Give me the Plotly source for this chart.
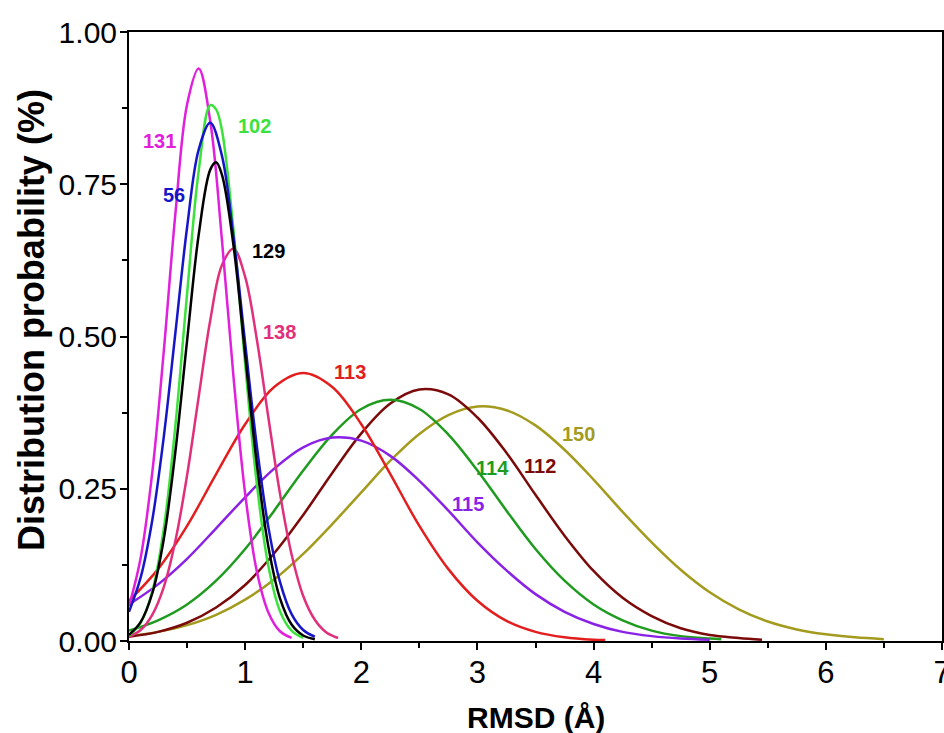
import plotly.graph_objects as go

# RMSD grids (Å)
x_narrow_131 = [0.0, 0.1, 0.2, 0.3, 0.4, 0.5, 0.6, 0.7, 0.8, 0.9, 1.0, 1.1, 1.2, 1.3, 1.4]
x_narrow_102 = [0.0, 0.1, 0.2, 0.3, 0.4, 0.5, 0.6, 0.7, 0.75, 0.8, 0.9, 1.0, 1.1, 1.2, 1.3, 1.4, 1.5]
x_narrow_56 = [0.0, 0.1, 0.2, 0.3, 0.4, 0.5, 0.6, 0.7, 0.8, 0.9, 1.0, 1.1, 1.2, 1.3, 1.4, 1.5, 1.6]
x_narrow_129 = [0.0, 0.1, 0.2, 0.3, 0.4, 0.5, 0.6, 0.7, 0.75, 0.8, 0.9, 1.0, 1.1, 1.2, 1.3, 1.4, 1.5, 1.6]
x_narrow_138 = [0.0, 0.1, 0.2, 0.3, 0.4, 0.5, 0.6, 0.7, 0.8, 0.9, 1.0, 1.1, 1.2, 1.3, 1.4, 1.5, 1.6, 1.7, 1.8]
x_wide_113 = [0.0, 0.25, 0.5, 0.75, 1.0, 1.25, 1.5, 1.75, 2.0, 2.25, 2.5, 2.75, 3.0, 3.25, 3.5, 3.75, 4.0, 4.1]
x_wide_115 = [0.0, 0.25, 0.5, 0.75, 1.0, 1.25, 1.5, 1.75, 2.0, 2.25, 2.5, 2.75, 3.0, 3.25, 3.5, 3.75, 4.0, 4.25, 4.5, 4.75, 5.0]
x_wide_114 = [0.0, 0.25, 0.5, 0.75, 1.0, 1.25, 1.5, 1.75, 2.0, 2.25, 2.5, 2.75, 3.0, 3.25, 3.5, 3.75, 4.0, 4.25, 4.5, 4.75, 5.0, 5.1]
x_wide_112 = [0.0, 0.25, 0.5, 0.75, 1.0, 1.25, 1.5, 1.75, 2.0, 2.25, 2.5, 2.75, 3.0, 3.25, 3.5, 3.75, 4.0, 4.25, 4.5, 4.75, 5.0, 5.25, 5.45]
x_wide_150 = [0.0, 0.25, 0.5, 0.75, 1.0, 1.25, 1.5, 1.75, 2.0, 2.25, 2.5, 2.75, 3.0, 3.25, 3.5, 3.75, 4.0, 4.25, 4.5, 4.75, 5.0, 5.25, 5.5, 5.75, 6.0, 6.25, 6.5]

# Distribution probability for each residue
p_131 = [0.057, 0.136, 0.276, 0.477, 0.703, 0.881, 0.940, 0.853, 0.659, 0.433, 0.242, 0.115, 0.047, 0.016, 0.005]
p_102 = [0.009, 0.030, 0.081, 0.185, 0.355, 0.570, 0.772, 0.880, 0.873, 0.839, 0.674, 0.455, 0.259, 0.123, 0.049, 0.017, 0.005]
p_56 = [0.048, 0.104, 0.198, 0.336, 0.507, 0.679, 0.807, 0.851, 0.797, 0.663, 0.489, 0.321, 0.187, 0.097, 0.044, 0.018, 0.007]
p_129 = [0.010, 0.031, 0.078, 0.168, 0.312, 0.493, 0.667, 0.774, 0.786, 0.766, 0.649, 0.470, 0.292, 0.155, 0.070, 0.027, 0.009, 0.003]
p_138 = [0.007, 0.018, 0.043, 0.089, 0.165, 0.272, 0.401, 0.527, 0.617, 0.644, 0.598, 0.496, 0.367, 0.242, 0.142, 0.074, 0.035, 0.014, 0.005]
p_113 = [0.066, 0.118, 0.189, 0.274, 0.356, 0.417, 0.440, 0.417, 0.356, 0.274, 0.189, 0.118, 0.066, 0.033, 0.015, 0.006, 0.002, 0.0015]
p_115 = [0.060, 0.093, 0.135, 0.185, 0.236, 0.283, 0.318, 0.334, 0.329, 0.304, 0.263, 0.214, 0.162, 0.116, 0.077, 0.048, 0.028, 0.015, 0.008, 0.004, 0.002]
p_114 = [0.017, 0.034, 0.060, 0.099, 0.151, 0.214, 0.280, 0.339, 0.381, 0.396, 0.381, 0.339, 0.280, 0.214, 0.151, 0.099, 0.060, 0.034, 0.017, 0.008, 0.004, 0.003]
p_112 = [0.007, 0.015, 0.030, 0.055, 0.092, 0.144, 0.207, 0.276, 0.341, 0.390, 0.413, 0.405, 0.367, 0.309, 0.240, 0.173, 0.115, 0.071, 0.041, 0.021, 0.010, 0.005, 0.002]
p_150 = [0.008, 0.015, 0.026, 0.043, 0.068, 0.101, 0.143, 0.192, 0.244, 0.296, 0.340, 0.371, 0.385, 0.379, 0.354, 0.314, 0.265, 0.212, 0.162, 0.117, 0.080, 0.052, 0.032, 0.019, 0.011, 0.006, 0.003]

residues = ["150", "112", "114", "115", "113", "138", "131", "102", "56", "129"]
x_values = [x_wide_150, x_wide_112, x_wide_114, x_wide_115, x_wide_113,
            x_narrow_138, x_narrow_131, x_narrow_102, x_narrow_56, x_narrow_129]
y_values = [p_150, p_112, p_114, p_115, p_113, p_138, p_131, p_102, p_56, p_129]
colors = ["#A39B1E", "#7B0B0B", "#1F9B1F", "#8A22E6", "#E31E1E",
          "#E0307C", "#E020DC", "#3CE23C", "#1616C8", "#000000"]

# Label anchor positions in data units (x, y)
label_x = [3.87, 3.54, 3.13, 2.92, 1.90, 1.30, 0.26, 1.08, 0.39, 1.20]
label_y = [0.340, 0.288, 0.284, 0.225, 0.441, 0.507, 0.821, 0.845, 0.732, 0.641]

FONT = "Arial, Liberation Sans"

fig = go.Figure()
for name, xs, ys, c in zip(residues, x_values, y_values, colors):
    fig.add_trace(go.Scatter(x=xs, y=ys, mode="lines", name=name,
                             line=dict(color=c, width=2.5, shape="spline", smoothing=1.0),
                             showlegend=False, hoverinfo="skip"))

for name, lx, ly, c in zip(residues, label_x, label_y, colors):
    fig.add_annotation(x=lx, y=ly, text=f"<b>{name}</b>", showarrow=False,
                       font=dict(family=FONT, size=20, color=c),
                       xanchor="center", yanchor="middle")

# Axis titles
fig.add_annotation(xref="paper", yref="paper", x=0.5, y=-0.1260,
                   text="<b>RMSD (Å)</b>", showarrow=False,
                   font=dict(family=FONT, size=30, color="#000000"),
                   xanchor="center", yanchor="middle")
fig.add_annotation(xref="paper", yref="paper", x=-0.1205, y=0.527,
                   text="<b>Distribution probability (%)</b>", showarrow=False,
                   textangle=-90, font=dict(family=FONT, size=36, color="#000000"),
                   xanchor="center", yanchor="middle")

fig.update_xaxes(range=[0, 7], tickvals=[0, 1, 2, 3, 4, 5, 6, 7],
                 ticktext=["0", "1", "2", "3", "4", "5", "6", "7"],
                 ticklabeloverflow="allow", automargin=False, ticklabelstandoff=-4,
                 showline=True, linecolor="#000000", linewidth=2, mirror=True,
                 ticks="outside", ticklen=7, tickwidth=2, tickcolor="#000000",
                 minor=dict(dtick=0.5, ticks="outside", ticklen=5, tickwidth=2, tickcolor="#000000"),
                 showgrid=False, zeroline=False,
                 tickfont=dict(family=FONT, size=31, color="#000000"))
fig.update_yaxes(range=[0, 1], tickvals=[0, 0.25, 0.5, 0.75, 1.0],
                 ticktext=["0.00", "0.25", "0.50", "0.75", "1.00"],
                 automargin=False, ticklabelstandoff=-3,
                 showline=True, linecolor="#000000", linewidth=2, mirror=True,
                 ticks="outside", ticklen=7, tickwidth=2, tickcolor="#000000",
                 minor=dict(dtick=0.125, ticks="outside", ticklen=5, tickwidth=2, tickcolor="#000000"),
                 showgrid=False, zeroline=False,
                 tickfont=dict(family=FONT, size=30, color="#000000"))

fig.update_layout(width=944, height=733, margin=dict(l=129, r=2, t=32, b=92),
                  paper_bgcolor="#FFFFFF", plot_bgcolor="#FFFFFF")

fig.write_html("out.html", config={"displayModeBar": False})
